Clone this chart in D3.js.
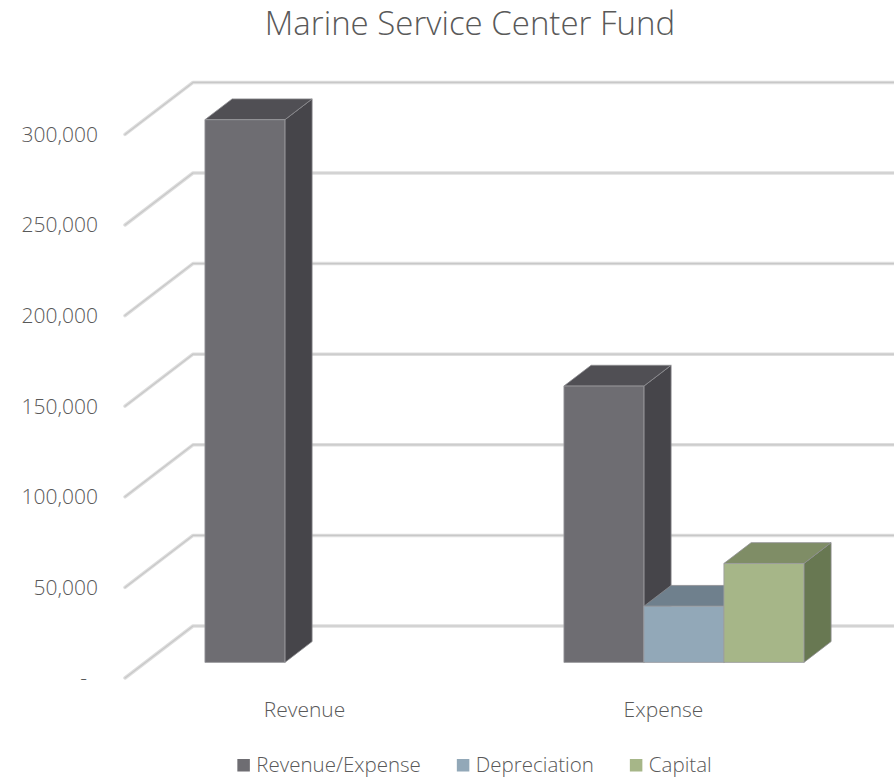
<!DOCTYPE html>
<html>
<head>
<meta charset="utf-8">
<script src="https://cdn.jsdelivr.net/npm/d3@7"></script>
<style>
  html, body { margin: 0; padding: 0; background: #ffffff; }
  svg { display: block; }
  text { font-family: "Open Sans", "Segoe UI", "DejaVu Sans", sans-serif; fill: #595959; }
</style>
</head>
<body>
<svg id="chart" width="894" height="777"></svg>
<script>
// Chart data
const categories = ["Revenue", "Expense"];
const seriesNames = ["Revenue/Expense", "Depreciation", "Capital"];
const revenueExpense = [299500, 152500];
const depreciation = [null, 31000];
const capital = [null, 54600];
const yTicks = [0, 50000, 100000, 150000, 200000, 250000, 300000];
const seriesValues = [revenueExpense, depreciation, capital];

// Face colours per series: front, top, side
const seriesColors = [
  { front: "#6e6d72", top: "#504f54", side: "#46454a" },
  { front: "#92a8b8", top: "#6f808d", side: "#5f707c" },
  { front: "#a6b688", top: "#7f8d66", side: "#687852" }
];

const svg = d3.select("#chart");

// Oblique projection: depth axis runs up and to the right
const depth = { dx: 68, dy: -52 };
const zFront = 0.3, zBack = 0.7;
const proj = (x, y, z) => [x + z * depth.dx, y + z * depth.dy];

// Front-plane scales
const x = d3.scaleBand().domain(categories).range([125, 843]).padding(0);
const xs = d3.scaleBand().domain(seriesNames).range([0, x.bandwidth()])
  .paddingInner(0).paddingOuter(0.744);
const y = d3.scaleLinear().domain([0, 300000]).range([678, 134.4]);

// Title
svg.append("text")
  .attr("x", 470).attr("y", 35)
  .attr("text-anchor", "middle")
  .style("font-size", "33px").style("font-weight", 300)
  .text("Marine Service Center Fund");

// Gridlines: diagonal along the side wall, then across the back wall
const gridLine = v => {
  const p0 = [125, y(v)];
  const p1 = proj(125, y(v), 1);
  const p2 = proj(843 + 40, y(v), 1);
  return d3.line()([p0, p1, p2]);
};
const grid = svg.append("g");
grid.selectAll("path.gw").data(yTicks).join("path")
  .attr("class", "gw")
  .attr("d", gridLine)
  .attr("fill", "none").attr("stroke", "#dedede").attr("stroke-width", 3.5)
  .attr("stroke-linejoin", "round").attr("stroke-linecap", "round");
grid.selectAll("path.gc").data(yTicks).join("path")
  .attr("class", "gc")
  .attr("d", gridLine)
  .attr("fill", "none").attr("stroke", "#c8c8c8").attr("stroke-width", 1.2)
  .attr("stroke-linejoin", "round").attr("stroke-linecap", "round");

// Value axis labels
const fmt = d3.format(",");
svg.append("g").selectAll("text").data(yTicks).join("text")
  .attr("x", d => d === 0 ? 87 : 98)
  .attr("y", d => y(d))
  .attr("dy", "0.35em")
  .attr("text-anchor", "end")
  .style("font-size", "21px").style("font-weight", 300)
  .text(d => d === 0 ? "-" : fmt(d));

// Bars, drawn left to right so each one covers its neighbour's side face
const bars = [];
categories.forEach((c, ci) => {
  seriesNames.forEach((s, si) => {
    const v = seriesValues[si][ci];
    if (v == null) return;
    bars.push({ c, s, si, v });
  });
});

const barG = svg.append("g");
const poly = pts => d3.line()(pts) + "Z";
bars.forEach(b => {
  const x0 = x(b.c) + xs(b.s);
  const x1 = x0 + xs.bandwidth();
  const yb = y(0), yt = y(b.v);
  const col = seriesColors[b.si];
  const g = barG.append("g");
  // side face
  g.append("path")
    .attr("d", poly([proj(x1, yb, zFront), proj(x1, yb, zBack), proj(x1, yt, zBack), proj(x1, yt, zFront)]))
    .attr("fill", col.side).attr("stroke", "#8d8d90").attr("stroke-width", 0.8);
  // top face
  g.append("path")
    .attr("d", poly([proj(x0, yt, zFront), proj(x1, yt, zFront), proj(x1, yt, zBack), proj(x0, yt, zBack)]))
    .attr("fill", col.top).attr("stroke", "#8d8d90").attr("stroke-width", 0.8);
  // front face
  g.append("path")
    .attr("d", poly([proj(x0, yb, zFront), proj(x1, yb, zFront), proj(x1, yt, zFront), proj(x0, yt, zFront)]))
    .attr("fill", col.front).attr("stroke", "#9c9c9f").attr("stroke-width", 0.8);
});

// Category labels
svg.append("g").selectAll("text").data(categories).join("text")
  .attr("x", d => x(d) + x.bandwidth() / 2)
  .attr("y", 717)
  .attr("text-anchor", "middle")
  .style("font-size", "21px").style("font-weight", 300)
  .text(d => d);

// Legend
const legend = svg.append("g");
const items = legend.selectAll("g").data(seriesNames).join("g");
items.append("rect")
  .attr("width", 12.5).attr("height", 12.5).attr("y", 759)
  .attr("fill", (d, i) => seriesColors[i].front);
items.append("text")
  .attr("x", 19).attr("y", 772)
  .style("font-size", "20.5px").style("font-weight", 300)
  .text(d => d);
let cursor = 0;
const offsets = [];
const gap = 36;
items.each(function () {
  const w = 19 + this.querySelector("text").getComputedTextLength();
  offsets.push(cursor);
  cursor += w + gap;
});
const total = cursor - gap;
const start = 474.5 - total / 2;
items.attr("transform", (d, i) => `translate(${start + offsets[i]},0)`);
</script>
</body>
</html>
